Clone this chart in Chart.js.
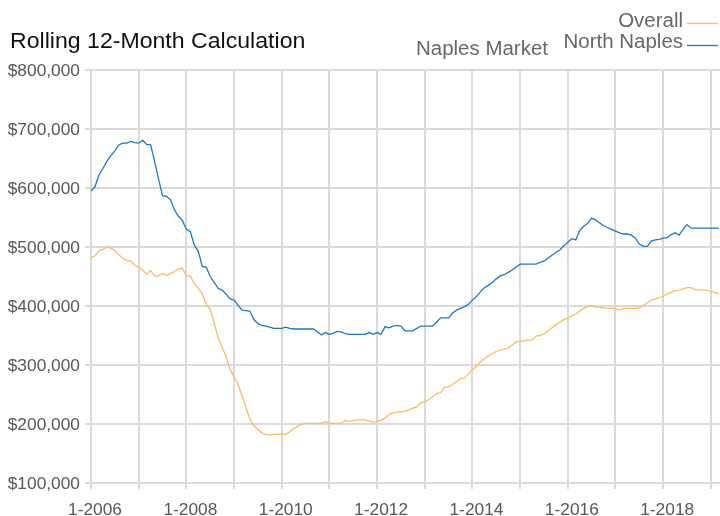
<!DOCTYPE html>
<html lang="en">
<head>
<meta charset="utf-8">
<title>Naples Market - Rolling 12-Month Calculation</title>
<script src="https://cdn.jsdelivr.net/npm/chart.js@4/dist/chart.umd.min.js"></script>
<style>
  html, body { margin: 0; padding: 0; background: #fff; overflow: hidden; }
  #priceChart { display: block; }
</style>
</head>
<body>
<canvas id="priceChart" width="720" height="516"></canvas>
<script>
// Monthly rolling 12-month values, starting January 2006
const startYear = 2006;

const overall = [
  482000, 485000, 494000, 496000, 500000, 498000, 494000, 487000, 481000, 477000, 476000, 469000,
  466000, 461000, 454000, 460000, 451000, 451000, 455000, 452000, 455000, 459000, 463000, 464000,
  451000, 451000, 438000, 430000, 421000, 402000, 395000, 371000, 346000, 330000, 314000, 293000,
  280000, 267000, 248000, 228000, 208000, 197000, 191000, 185000, 182000, 181000, 182000, 183000,
  183000, 182000, 187000, 192000, 196000, 200000, 201000, 201000, 201000, 201000, 201000, 204000,
  201000, 201000, 201000, 201000, 206000, 204000, 206000, 207000, 207000, 207000, 205000, 203000,
  204000, 207000, 210000, 216000, 219000, 220000, 221000, 222000, 224000, 227000, 229000, 236000,
  238000, 241000, 246000, 252000, 253000, 262000, 263000, 267000, 272000, 277000, 278000, 285000,
  292000, 298000, 305000, 311000, 315000, 319000, 323000, 325000, 327000, 329000, 334000, 339000,
  340000, 341000, 342000, 342000, 349000, 350000, 353000, 358000, 363000, 368000, 373000, 377000,
  380000, 383000, 386000, 392000, 396000, 399000, 400000, 398000, 398000, 397000, 396000, 396000,
  396000, 393000, 396000, 396000, 396000, 396000, 397000, 401000, 405000, 410000, 412000, 414000,
  417000, 420000, 423000, 426000, 427000, 429000, 431000, 431000, 428000, 427000, 427000, 427000,
  425000, 423000, 420000
];

const northNaples = [
  595000, 602000, 622000, 633000, 645000, 655000, 663000, 673000, 676000, 676000, 679000, 677000,
  676000, 681000, 674000, 673000, 645000, 615000, 587000, 586000, 580000, 563000, 552000, 545000,
  530000, 526000, 503000, 493000, 467000, 466000, 450000, 440000, 430000, 427000, 420000, 412000,
  410000, 401000, 393000, 392000, 391000, 377000, 370000, 367000, 366000, 364000, 362000, 362000,
  362000, 364000, 362000, 361000, 361000, 361000, 361000, 361000, 361000, 356000, 351000, 355000,
  352000, 354000, 357000, 356000, 353000, 352000, 352000, 352000, 352000, 352000, 355000, 352000,
  355000, 352000, 365000, 363000, 366000, 367000, 366000, 358000, 358000, 358000, 362000, 366000,
  366000, 366000, 366000, 373000, 380000, 380000, 380000, 388000, 393000, 396000, 399000, 403000,
  410000, 416000, 424000, 431000, 435000, 440000, 446000, 451000, 453000, 457000, 461000, 466000,
  471000, 471000, 471000, 471000, 471000, 474000, 476000, 481000, 486000, 491000, 495000, 502000,
  508000, 514000, 512000, 528000, 535000, 540000, 549000, 546000, 541000, 536000, 533000, 530000,
  527000, 524000, 522000, 522000, 520000, 515000, 505000, 501000, 501000, 510000, 512000, 513000,
  515000, 516000, 521000, 524000, 520000, 530000, 538000, 532000, 532000, 532000, 532000, 532000,
  532000, 532000, 532000
];

const xTickLabels = ['1-2006', '1-2008', '1-2010', '1-2012', '1-2014', '1-2016', '1-2018'];
const yTicks = [100000, 200000, 300000, 400000, 500000, 600000, 700000, 800000];

const gridColor = '#dadada';
const textGray = '#575757';
const fontFamily = '"Liberation Sans", Arial, Helvetica, sans-serif';
const stretchX = 1.05;

function drawText(ctx, text, x, y, font, color, align, baseline) {
  ctx.save();
  ctx.font = font;
  ctx.fillStyle = color;
  ctx.textAlign = align || 'left';
  ctx.textBaseline = baseline || 'alphabetic';
  ctx.translate(x, y);
  ctx.scale(stretchX, 1);
  ctx.fillText(text, 0, 0);
  ctx.restore();
}

function drawSwatch(ctx, color, y) {
  ctx.save();
  ctx.strokeStyle = color;
  ctx.lineWidth = 1.3;
  ctx.beginPath();
  ctx.moveTo(687, y);
  ctx.lineTo(718, y);
  ctx.stroke();
  ctx.restore();
}

// Axis labels, heading and legend are drawn by hand so the type can be widened a little
const labelsPlugin = {
  id: 'labels',
  afterDraw(chart) {
    const { ctx, scales } = chart;
    const tickFont = '16.5px ' + fontFamily;

    yTicks.forEach((v) => {
      const y = scales.y.getPixelForValue(v) + 1;
      drawText(ctx, '$' + v.toLocaleString('en-US'), 80, y, tickFont, textGray, 'right', 'middle');
    });

    xTickLabels.forEach((label, i) => {
      const x = scales.x.getPixelForValue(i * 24) + 4;
      drawText(ctx, label, x, 510, tickFont, textGray, 'center', 'middle');
    });

    drawText(ctx, 'Rolling 12-Month Calculation', 10, 48, '22px ' + fontFamily, '#111', 'left');

    const legendFont = '19.5px ' + fontFamily;
    const [overallSet, northSet] = chart.data.datasets;
    drawText(ctx, overallSet.label, 683, 27, legendFont, '#686868', 'right');
    drawSwatch(ctx, overallSet.borderColor, 23.5);
    drawText(ctx, northSet.label, 683, 48, legendFont, '#686868', 'right');
    drawSwatch(ctx, northSet.borderColor, 45.5);
    drawText(ctx, 'Naples Market', 548, 55, legendFont, '#686868', 'right');
  },
};

document.addEventListener('DOMContentLoaded', () => {
  const canvas = document.getElementById('priceChart');
  if (!canvas || typeof Chart === 'undefined') return;

  new Chart(canvas, {
    type: 'line',
    data: {
      datasets: [{
        label: 'Overall',
        data: overall.map((v, i) => ({ x: i, y: v })),
        borderColor: '#f8bd60',
        borderWidth: 1.3,
        pointRadius: 0,
        tension: 0,
      }, {
        label: 'North Naples',
        data: northNaples.map((v, i) => ({ x: i, y: v })),
        borderColor: '#1c78c6',
        borderWidth: 1.3,
        pointRadius: 0,
        tension: 0,
      }],
    },
    options: {
      responsive: false,
      animation: false,
      layout: { padding: { left: 85, right: 0, top: 70, bottom: 27 } },
      plugins: {
        legend: { display: false },
        title: { display: false },
        tooltip: { enabled: false },
      },
      scales: {
        x: {
          type: 'linear',
          min: 0,
          max: 158.3,
          ticks: { display: false, stepSize: 12, includeBounds: false },
          grid: { color: gridColor, lineWidth: 2, tickLength: 6 },
          border: { color: gridColor, width: 2 },
        },
        y: {
          min: 100000,
          max: 800000,
          ticks: { display: false, stepSize: 100000 },
          grid: { color: gridColor, lineWidth: 2, tickLength: 6 },
          border: { color: gridColor, width: 2 },
        },
      },
    },
    plugins: [labelsPlugin],
  });
});
</script>
</body>
</html>
